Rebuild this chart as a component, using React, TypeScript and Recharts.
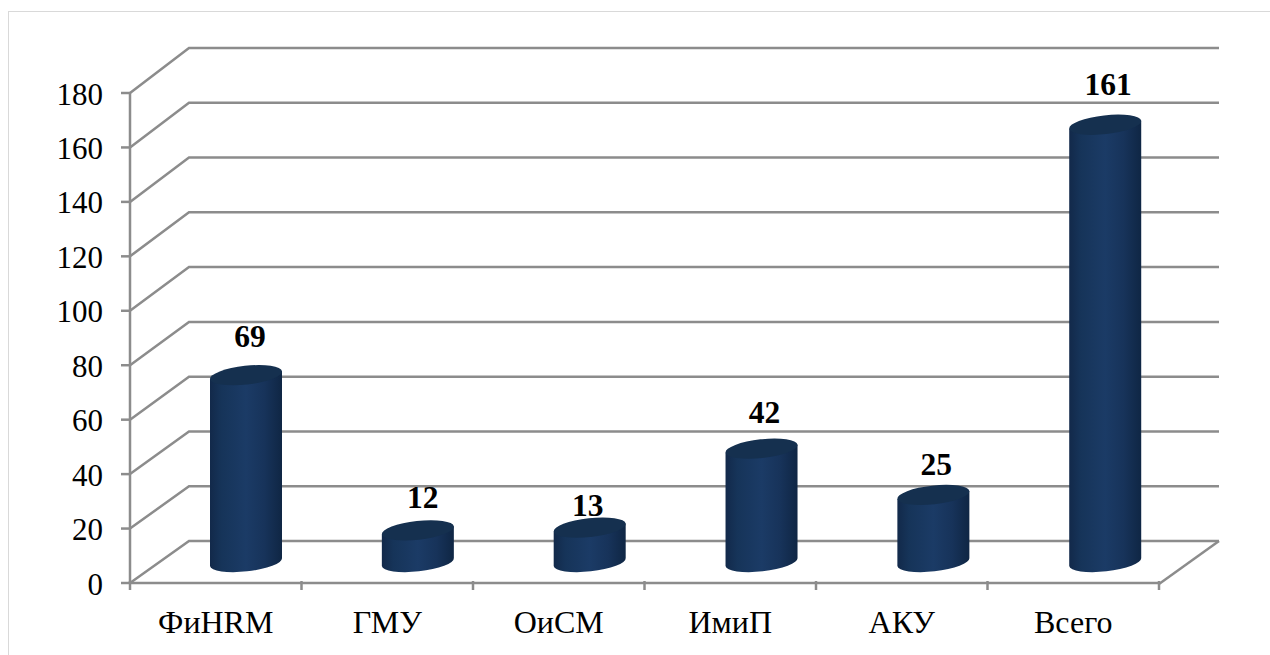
import { BarChart, Bar, XAxis, YAxis, CartesianGrid, LabelList } from "recharts";

const categories = ["ФиHRM", "ГМУ", "ОиСМ", "ИмиП", "АКУ", "Всего"];
const values = [69, 12, 13, 42, 25, 161];
const yTicks = [0, 20, 40, 60, 80, 100, 120, 140, 160, 180];
// hand-placed labels in the original: gap above the cylinder top and sideways shift
const labelGaps = [39, 33, 22, 36, 30, 40];
const labelShifts = [4, 5, -2, 3, 3, 3];

const data = categories.map((name, i) => ({ name, value: values[i] }));

const FONT = '"Liberation Serif", "Times New Roman", serif';
const GRID = "#8c8c8c";
const WIDTH = 1270;
const HEIGHT = 655;
const margin = { top: 93, right: 111, bottom: 0, left: 70 };
const step = (WIDTH - margin.left - margin.right - 60) / categories.length;

// depth of the fake 3d box
const DEPTH_X = 59;
const depthY = (y: number) => 42 + ((583 - y) * 3) / 490;
const CYL_DX = 30;
const CYL_TOP_DY = 20;
const CYL_BOTTOM_DY = 21;
const TILT = 4;
const RY = 9.4;

const cylCenter = (x: number, width: number) => {
  const c = x + width / 2;
  return c + CYL_DX + (c - 215) * 0.002;
};

function GridLine(props: any) {
  const { x1, x2, y1 } = props;
  const d = depthY(y1);
  const isFloor = y1 > 580;
  return (
    <g fill="none" stroke={GRID} strokeWidth={2.5}>
      <polyline points={`${x1},${y1} ${x1 + DEPTH_X},${y1 - d} ${x2 + 60},${y1 - d}`} />
      {isFloor && <line x1={x2} y1={y1 + 1} x2={x2 + 60} y2={y1 - d} />}
    </g>
  );
}

function Cylinder(props: any) {
  const { x, y, width, height } = props;
  const cx = cylCenter(x, width);
  const r = width / 2;
  const rx = Math.sqrt(r * r + TILT * TILT);
  const top = y - CYL_TOP_DY;
  const bottom = y + height - CYL_BOTTOM_DY;
  const arc = `A${rx} ${RY} -6.3 0 0`;
  const body = `M${cx - r} ${top + TILT} L${cx - r} ${bottom + TILT} ${arc} ${cx + r} ${bottom - TILT} L${cx + r} ${top - TILT} Z`;
  const cap = `M${cx - r} ${top + TILT} ${arc} ${cx + r} ${top - TILT} ${arc} ${cx - r} ${top + TILT} Z`;
  return (
    <g>
      <path d={body} fill="url(#cylBody)" />
      <path d={cap} fill="#15304f" />
    </g>
  );
}

function BarLabel(props: any) {
  const { x, y, width, value, index } = props;
  const cx = cylCenter(x, width);
  return (
    <text
      x={cx + labelShifts[index]}
      y={y - CYL_TOP_DY - labelGaps[index]}
      textAnchor="middle"
      dominantBaseline="central"
      fontFamily={FONT}
      fontSize={31.5}
      fontWeight="bold"
      fill="#000"
    >
      {value}
    </text>
  );
}

function CategoryTick(props: any) {
  const { x, y, payload, index } = props;
  return (
    <g>
      <line x1={x - step / 2} y1={y - 10} x2={x - step / 2} y2={y - 1} stroke={GRID} strokeWidth={2.5} />
      {index === categories.length - 1 && (
        <line x1={x + step / 2} y1={y - 10} x2={x + step / 2} y2={y - 1} stroke={GRID} strokeWidth={2.5} />
      )}
      <text x={x} y={622} textAnchor="middle" dominantBaseline="central" fontFamily={FONT} fontSize={32} fill="#000">
        {payload.value}
      </text>
    </g>
  );
}

function ValueTick(props: any) {
  const { x, y, payload } = props;
  return (
    <text x={x - 1} y={y + 1} textAnchor="end" dominantBaseline="central" fontFamily={FONT} fontSize={31} fill="#000">
      {payload.value}
    </text>
  );
}

export default function App() {
  return (
    <div style={{ position: "absolute", left: 0, top: 0, width: WIDTH, height: HEIGHT, background: "#fff", overflow: "hidden" }}>
      <div
        style={{
          position: "absolute",
          left: 8,
          top: 11,
          right: 0,
          bottom: 0,
          borderLeft: "1.5px solid #d9d9d9",
          borderTop: "1.5px solid #d9d9d9",
        }}
      />
      <div style={{ position: "absolute", left: 0, top: 0 }}>
        <BarChart width={WIDTH} height={HEIGHT} data={data} margin={margin}>
          <defs>
            <linearGradient id="cylBody" x1="0" y1="0" x2="1" y2="0">
              <stop offset="0" stopColor="#12294a" />
              <stop offset="0.16" stopColor="#163459" />
              <stop offset="0.5" stopColor="#1b3b66" />
              <stop offset="0.76" stopColor="#17335a" />
              <stop offset="1" stopColor="#0f2644" />
            </linearGradient>
          </defs>
          <CartesianGrid vertical={false} horizontal={(p: any) => <GridLine key={p.key ?? p.y1} {...p} />} />
          <XAxis
            dataKey="name"
            height={72}
            axisLine={{ stroke: GRID, strokeWidth: 2.5 }}
            tickLine={false}
            interval={0}
            tick={(p: any) => <CategoryTick {...p} />}
          />
          <YAxis
            domain={[0, 180]}
            ticks={yTicks}
            width={60}
            interval={0}
            axisLine={{ stroke: GRID, strokeWidth: 2.5 }}
            tickLine={{ stroke: GRID, strokeWidth: 2.5 }}
            tickSize={9}
            tickMargin={17}
            tick={(p: any) => <ValueTick {...p} />}
          />
          <Bar dataKey="value" barSize={72} isAnimationActive={false} shape={(p: any) => <Cylinder {...p} />}>
            <LabelList dataKey="value" content={(p: any) => <BarLabel {...p} />} />
          </Bar>
        </BarChart>
      </div>
    </div>
  );
}
